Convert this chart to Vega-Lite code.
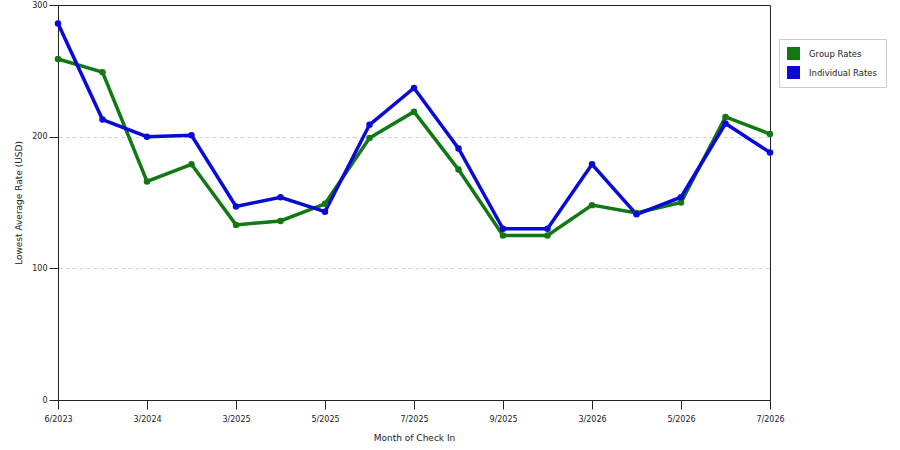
{
  "$schema": "https://vega.github.io/schema/vega-lite/v6.json",
  "width": 712,
  "height": 395,
  "autosize": {"type": "none"},
  "padding": {"left": 58, "top": 5, "right": 130, "bottom": 50},
  "background": "white",
  "config": {
    "view": {"stroke": "#222", "strokeWidth": 1},
    "font": "DejaVu Sans",
    "axis": {
      "labelFont": "DejaVu Sans",
      "titleFont": "DejaVu Sans",
      "labelFontSize": 8,
      "titleFontSize": 9,
      "titleFontWeight": "normal",
      "labelColor": "#222",
      "titleColor": "#222",
      "domainColor": "#222",
      "tickColor": "#222",
      "tickSize": 9
    },
    "legend": {"labelFont": "DejaVu Sans", "labelFontSize": 8.5, "labelColor": "#222"}
  },
  "data": {
    "values": [
      {"month": "6/2023", "series": "Group Rates", "rate": 259},
      {"month": "12/2023", "series": "Group Rates", "rate": 249},
      {"month": "3/2024", "series": "Group Rates", "rate": 166},
      {"month": "9/2024", "series": "Group Rates", "rate": 179},
      {"month": "3/2025", "series": "Group Rates", "rate": 133},
      {"month": "4/2025", "series": "Group Rates", "rate": 136},
      {"month": "5/2025", "series": "Group Rates", "rate": 149},
      {"month": "6/2025", "series": "Group Rates", "rate": 199},
      {"month": "7/2025", "series": "Group Rates", "rate": 219},
      {"month": "8/2025", "series": "Group Rates", "rate": 175},
      {"month": "9/2025", "series": "Group Rates", "rate": 125},
      {"month": "12/2025", "series": "Group Rates", "rate": 125},
      {"month": "3/2026", "series": "Group Rates", "rate": 148},
      {"month": "4/2026", "series": "Group Rates", "rate": 142},
      {"month": "5/2026", "series": "Group Rates", "rate": 150},
      {"month": "6/2026", "series": "Group Rates", "rate": 215},
      {"month": "7/2026", "series": "Group Rates", "rate": 202},
      {"month": "6/2023", "series": "Individual Rates", "rate": 286},
      {"month": "12/2023", "series": "Individual Rates", "rate": 213},
      {"month": "3/2024", "series": "Individual Rates", "rate": 200},
      {"month": "9/2024", "series": "Individual Rates", "rate": 201},
      {"month": "3/2025", "series": "Individual Rates", "rate": 147},
      {"month": "4/2025", "series": "Individual Rates", "rate": 154},
      {"month": "5/2025", "series": "Individual Rates", "rate": 143},
      {"month": "6/2025", "series": "Individual Rates", "rate": 209},
      {"month": "7/2025", "series": "Individual Rates", "rate": 237},
      {"month": "8/2025", "series": "Individual Rates", "rate": 191},
      {"month": "9/2025", "series": "Individual Rates", "rate": 130},
      {"month": "12/2025", "series": "Individual Rates", "rate": 130},
      {"month": "3/2026", "series": "Individual Rates", "rate": 179},
      {"month": "4/2026", "series": "Individual Rates", "rate": 141},
      {"month": "5/2026", "series": "Individual Rates", "rate": 154},
      {"month": "6/2026", "series": "Individual Rates", "rate": 210},
      {"month": "7/2026", "series": "Individual Rates", "rate": 188}
    ]
  },
  "encoding": {
    "x": {
      "field": "month",
      "type": "ordinal",
      "sort": null,
      "scale": {"type": "point", "padding": 0},
      "title": "Month of Check In",
      "axis": {
        "values": ["6/2023", "3/2024", "3/2025", "5/2025", "7/2025", "9/2025", "3/2026", "5/2026", "7/2026"],
        "labelAngle": 0,
        "labelPadding": 6,
        "titlePadding": 10,
        "grid": false
      }
    },
    "y": {
      "field": "rate",
      "type": "quantitative",
      "scale": {"domain": [0, 300]},
      "title": "Lowest Average Rate (USD)",
      "axis": {
        "values": [0, 100, 200, 300],
        "labelPadding": 2,
        "titlePadding": 8,
        "grid": true,
        "gridColor": "#d0d0d0",
        "gridDash": [4, 3],
        "gridOpacity": {"condition": {"test": "datum.value == 0 || datum.value == 300", "value": 0}, "value": 1}
      }
    },
    "color": {
      "field": "series",
      "type": "nominal",
      "scale": {"domain": ["Group Rates", "Individual Rates"], "range": ["#127812", "#0a0ad8"]},
      "legend": {
        "title": null,
        "orient": "none",
        "legendX": 721,
        "legendY": 34,
        "symbolType": "square",
        "symbolSize": 169,
        "symbolStrokeWidth": 0,
        "symbolOpacity": 1,
        "rowPadding": 6,
        "labelOffset": 9,
        "padding": 8,
        "strokeColor": "#cccccc",
        "fillColor": "white",
        "labelLimit": 200
      }
    }
  },
  "layer": [
    {"mark": {"type": "line", "strokeWidth": 3.5}},
    {"mark": {"type": "point", "filled": true, "size": 42, "opacity": 1}}
  ]
}
